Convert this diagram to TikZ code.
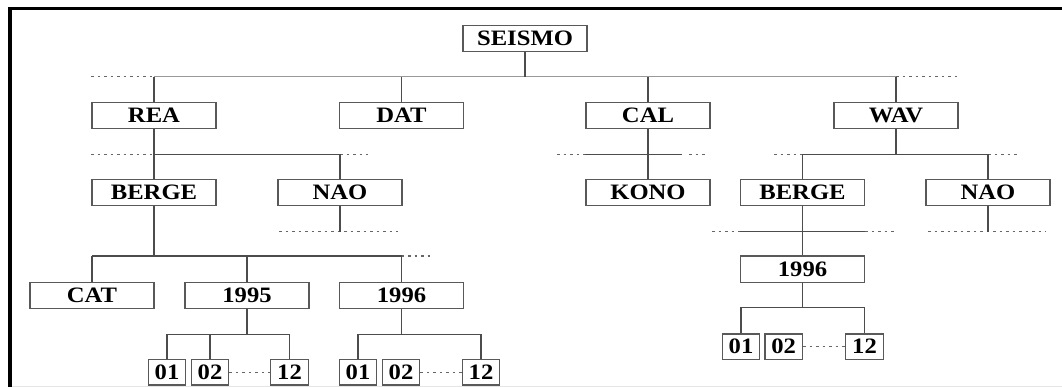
\documentclass[tikz,border=0pt]{standalone}
\usepackage{fontspec}
\newfontfamily\dirfont[FakeStretch=1.12]{Liberation Serif}
\tikzset{
  dirbox/.style={draw=black!65,line width=1.4pt,fill=white,inner sep=0pt,
    minimum width=124pt,minimum height=26pt,
    font=\dirfont\bfseries\fontsize{22}{22}\selectfont},
  monbox/.style={dirbox,minimum width=37.5pt,minimum height=25.5pt},
  conn/.style={draw=black!70,line width=1.4pt},
  bus/.style={draw=black!40,line width=1.5pt},
  more/.style={draw=black!60,line width=1.3pt,dash pattern=on 2.5pt off 4pt}
}
\begin{document}
\begin{tikzpicture}[x=1pt,y=-1pt]
     \useasboundingbox (0,0) rectangle (1062,387);
     % frame
     \draw[line width=4pt] (10,8) -- (10,387);
     \draw[line width=3.3pt] (8,8.3) -- (1062,8.3);
     \draw[black!10,line width=1pt] (12,386) -- (1062,386);
     % boxes
     \node[dirbox] (seismo) at (525,38.3) {SEISMO};
     \node[dirbox] (rea) at (154,115.5) {REA};
     \node[dirbox] (dat) at (401.5,115.5) {DAT};
     \node[dirbox] (cal) at (648,115.5) {CAL};
     \node[dirbox] (wav) at (896,115.5) {WAV};
     \node[dirbox] (berge) at (154,192.7) {BERGE};
     \node[dirbox] (nao) at (340,192.7) {NAO};
     \node[dirbox] (kono) at (648,192.7) {KONO};
     \node[dirbox] (wberge) at (802.5,192.7) {BERGE};
     \node[dirbox] (wnao) at (988,192.7) {NAO};
     \node[dirbox] (cat) at (92,295.2) {CAT};
     \node[dirbox] (y95) at (247,295.2) {1995};
     \node[dirbox] (y96) at (401.5,295.2) {1996};
     \node[dirbox] (wy96) at (802.5,269.2) {1996};
     \node[monbox] (a01) at (167,372.2) {01};
     \node[monbox] (a02) at (210,372.2) {02};
     \node[monbox] (a12) at (289.5,372.2) {12};
     \node[monbox] (b01) at (358,372.2) {01};
     \node[monbox] (b02) at (401,372.2) {02};
     \node[monbox] (b12) at (481,372.2) {12};
     \node[monbox] (c01) at (741,346.7) {01};
     \node[monbox] (c02) at (783.7,346.7) {02};
     \node[monbox] (c12) at (864.5,346.7) {12};
     % bus levels
     \coordinate (l1) at (0,76.7);
     \coordinate (l2) at (0,154.3);
     \coordinate (l3) at (0,231.7);
     \coordinate (l4) at (0,256);
     % SEISMO
     \draw[bus] (rea.north |- l1) -- (wav.north |- l1);
     \draw[more] (91,76.7) -- (rea.north |- l1);
     \draw[more] (wav.north |- l1) -- (959,76.7);
     \draw[conn] (seismo) -- (seismo |- l1);
     \foreach \n in {rea,dat,cal,wav}
       \draw[conn] (\n.north) -- (\n.north |- l1);
     % REA
     \draw[conn] (berge.north |- l2) -- (nao.north |- l2);
     \draw[more] (91,154.3) -- (berge.north |- l2);
     \draw[more] (nao.north |- l2) -- (368,154.3);
     \draw[conn] (rea) -- (berge);
     \draw[conn] (nao.north) -- (nao.north |- l2);
     % CAL
     \draw[conn] (kono.north west |- l2) -- (682,154.3);
     \draw[more] (557,154.3) -- (kono.north west |- l2);
     \draw[more] (689,154.3) -- (708,154.3);
     \draw[conn] (cal) -- (kono);
     % WAV
     \draw[conn] (wberge.north |- l2) -- (wnao.north |- l2);
     \draw[more] (774,154.3) -- (wberge.north |- l2);
     \draw[more] (wnao.north |- l2) -- (1018,154.3);
     \draw[conn] (wav.south) -- (wav.south |- l2);
     \foreach \n in {wberge,wnao}
       \draw[conn] (\n.north) -- (\n.north |- l2);
     % NAO
     \draw[more] (279,231.7) -- (398,231.7);
     \draw[conn] (nao) -- (nao |- l3);
     \draw[more] (928,231.7) -- (1046,231.7);
     \draw[conn] (wnao) -- (wnao |- l3);
     % BERGE
     \draw[conn] (cat.north |- l4) -- (y96.north |- l4);
     \draw[more] (y96.north |- l4) -- (430,256);
     \draw[conn] (berge) -- (berge |- l4);
     \foreach \n in {cat,y95,y96}
       \draw[conn] (\n.north) -- (\n.north |- l4);
     \draw[conn] (wberge.south west |- l3) -- (wberge.south east |- l3);
     \draw[more] (712,231.7) -- (wberge.south west |- l3);
     \draw[more] (wberge.south east |- l3) -- (894,231.7);
     \draw[conn] (wberge) -- (wy96);
     % months
     \draw[conn] (a01.north |- 0,334.3) -| (a12.north);
     \draw[conn] (a01.north) -- (a01.north |- 0,334.3);
     \draw[conn] (a02.north) -- (a02.north |- 0,334.3);
     \draw[conn] (y95) -- (y95 |- 0,334.3);
     \draw[conn] (b01.north) |- (b12.north |- 0,334.3) -- (b12.north);
     \draw[conn] (y96) -- (y96 |- 0,334.3);
     \draw[conn] (c01.north) |- (c12.north |- 0,307.7) -- (c12.north);
     \draw[conn] (wy96) -- (wy96 |- 0,307.7);
     \draw[more] (a02) -- (a12);
     \draw[more] (b02) -- (b12);
     \draw[more] (c02) -- (c12);
   \end{tikzpicture}
\end{document}
